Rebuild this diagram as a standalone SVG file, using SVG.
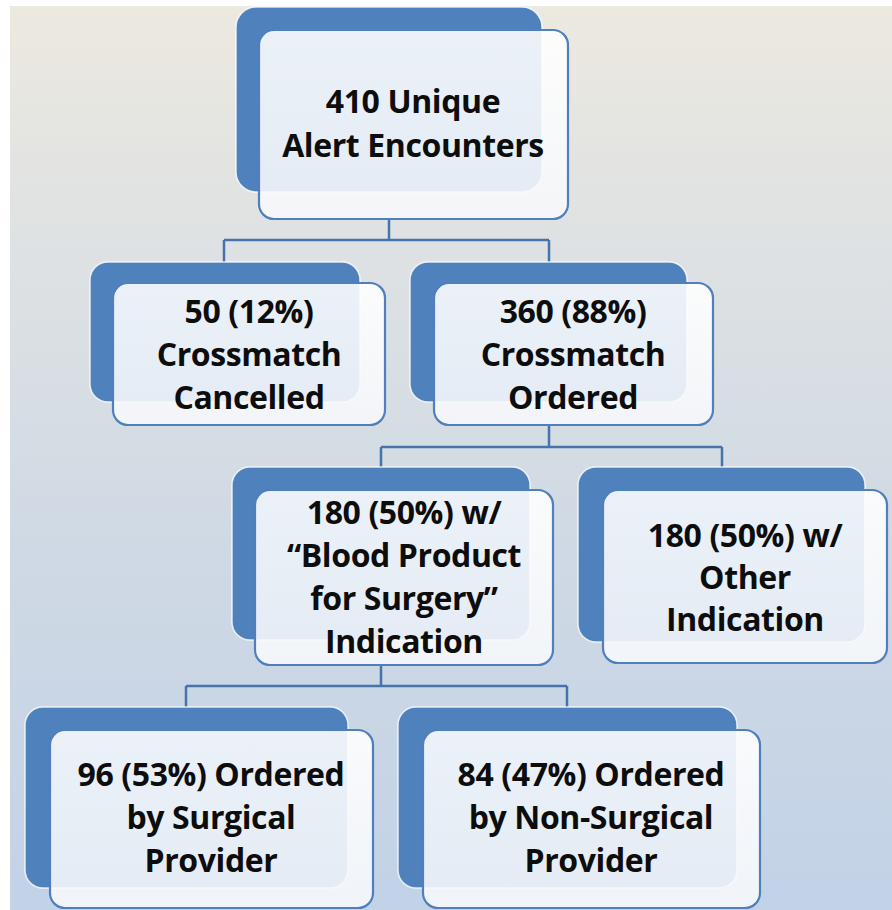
<svg xmlns="http://www.w3.org/2000/svg" width="892" height="910" viewBox="0 0 892 910">
<defs>
<linearGradient id="bg" x1="0" y1="0" x2="0" y2="1">
<stop offset="0" stop-color="#ece9df"/>
<stop offset="0.25" stop-color="#dfe2e3"/>
<stop offset="0.6" stop-color="#cfd9e4"/>
<stop offset="1" stop-color="#c2d2e7"/>
</linearGradient>
<linearGradient id="front" x1="0" y1="0" x2="0" y2="1">
<stop offset="0" stop-color="#ffffff"/>
<stop offset="1" stop-color="#f6f8fb"/>
</linearGradient>
<style>
.back{fill:#4f81bd;stroke:#ffffff;stroke-opacity:0.8;stroke-width:1.5}
.front{fill:url(#front);fill-opacity:0.89;stroke:#4f7fbd;stroke-width:2.2}
.conn{fill:none;stroke:#4673ac;stroke-width:2.5}
.t{font-family:"Open Sans","Liberation Sans",sans-serif;font-weight:bold;font-size:32px;letter-spacing:-0.4px;fill:#0d0d0d;text-anchor:middle}
</style>
</defs>
<rect x="10" y="6" width="882" height="904" fill="url(#bg)"/>
<g id="connectors">
<path class="conn" d="M389 219 V240 M224 240 H549 M224 240 V262 M549 240 V262"/>
<path class="conn" d="M549 425 V447 M381 447 H722 M381 447 V467 M722 447 V467"/>
<path class="conn" d="M381 665 V686 M186 686 H567 M186 686 V707 M567 686 V707"/>
</g>
<g id="node1">
<rect class="back" x="236" y="7" width="306" height="185" rx="20"/>
<rect class="front" x="259" y="30" width="309" height="189" rx="15"/>
<text class="t" x="413" y="113">410 Unique</text>
<text class="t" x="413" y="157">Alert Encounters</text>
</g>
<g id="node2">
<rect class="back" x="90" y="262" width="270" height="140" rx="18"/>
<rect class="front" x="113" y="283" width="272" height="142" rx="15"/>
<text class="t" x="249" y="323">50 (12%)</text>
<text class="t" x="249" y="366">Crossmatch</text>
<text class="t" x="249" y="409">Cancelled</text>
</g>
<g id="node3">
<rect class="back" x="410" y="262" width="277" height="140" rx="18"/>
<rect class="front" x="434" y="283" width="279" height="142" rx="15"/>
<text class="t" x="573" y="323">360 (88%)</text>
<text class="t" x="573" y="366">Crossmatch</text>
<text class="t" x="573" y="409">Ordered</text>
</g>
<g id="node4">
<rect class="back" x="232" y="467" width="298" height="173" rx="18"/>
<rect class="front" x="255" y="490" width="298" height="175" rx="15"/>
<text class="t" x="404" y="524">180 (50%) w/</text>
<text class="t" x="404" y="567">“Blood Product</text>
<text class="t" x="404" y="610">for Surgery”</text>
<text class="t" x="404" y="653">Indication</text>
</g>
<g id="node5">
<rect class="back" x="578" y="467" width="287" height="175" rx="18"/>
<rect class="front" x="603" y="490" width="284" height="173" rx="15"/>
<text class="t" x="745" y="547">180 (50%) w/</text>
<text class="t" x="745" y="589">Other</text>
<text class="t" x="745" y="631">Indication</text>
</g>
<g id="node6">
<rect class="back" x="25" y="707" width="323" height="181" rx="18"/>
<rect class="front" x="50" y="730" width="323" height="178" rx="15"/>
<text class="t" x="211" y="786">96 (53%) Ordered</text>
<text class="t" x="211" y="829">by Surgical</text>
<text class="t" x="211" y="872">Provider</text>
</g>
<g id="node7">
<rect class="back" x="398" y="707" width="339" height="181" rx="18"/>
<rect class="front" x="423" y="730" width="337" height="178" rx="15"/>
<text class="t" x="591" y="786">84 (47%) Ordered</text>
<text class="t" x="591" y="829">by Non-Surgical</text>
<text class="t" x="591" y="872">Provider</text>
</g>
</svg>
